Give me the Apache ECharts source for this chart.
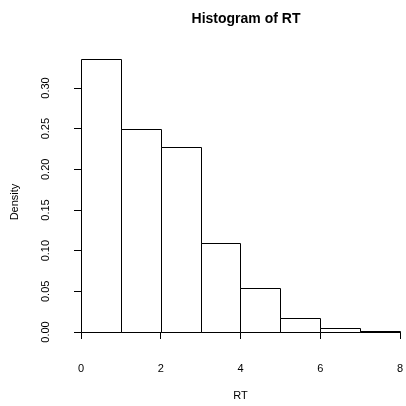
<!DOCTYPE html>
<html><head><meta charset="utf-8">
<script src="https://cdn.jsdelivr.net/npm/echarts@6/dist/echarts.min.js"></script>
<style>html,body{margin:0;padding:0;background:#fff}#c{width:406px;height:406px}</style>
</head><body><div id="c"></div>
<script>
var breaks = [0, 1, 2, 3, 4, 5, 6, 7, 8];
var density = [0.336, 0.250, 0.228, 0.109, 0.054, 0.017, 0.005, 0.001];
var xTicks = [0, 2, 4, 6, 8];
var yTicks = [0.00, 0.05, 0.10, 0.15, 0.20, 0.25, 0.30];

var bins = density.map(function (d, i) { return [breaks[i], breaks[i + 1], d]; });
var FONT = 'Liberation Sans, Arial, Helvetica, sans-serif';

var chart = echarts.init(document.getElementById('c'), null, {renderer: 'canvas'});
chart.setOption({
  backgroundColor: '#ffffff',
  animation: false,
  title: {
    text: 'Histogram of RT', left: 241, top: 7, textAlign: 'center',
    textStyle: {fontFamily: FONT, fontWeight: 'bold', fontSize: 14, color: '#000'}
  },
  grid: {left: 81, right: 4, top: 88, bottom: 70, containLabel: false},
  xAxis: {
    type: 'value', min: xTicks[0], max: xTicks[xTicks.length - 1], interval: 2,
    offset: 12,
    axisLine: {show: true, lineStyle: {color: '#000', width: 1}},
    axisTick: {show: true, length: 7, lineStyle: {color: '#000', width: 1}},
    axisLabel: {fontFamily: FONT, fontSize: 11, color: '#000', margin: 19},
    splitLine: {show: false},
    name: 'RT', nameLocation: 'middle', nameGap: 46,
    nameTextStyle: {fontFamily: FONT, fontSize: 11, color: '#000'}
  },
  yAxis: {
    type: 'value', min: yTicks[0], max: yTicks[yTicks.length - 1], interval: 0.05,
    offset: 13,
    axisLine: {show: true, lineStyle: {color: '#000', width: 1}},
    axisTick: {show: true, length: 7, lineStyle: {color: '#000', width: 1}},
    axisLabel: {fontFamily: FONT, fontSize: 11, color: '#000', margin: 17, rotate: 90,
      formatter: function (v) { return v.toFixed(2); }},
    splitLine: {show: false}
  },
  graphic: [{
    type: 'text', x: 15, y: 202, rotation: Math.PI / 2,
    style: {text: 'Density', fontFamily: FONT, fontSize: 11, fill: '#000',
      textAlign: 'center', textVerticalAlign: 'middle'}
  }],
  series: [{
    type: 'custom',
    clip: false,
    data: bins,
    renderItem: function (params, api) {
      var p0 = api.coord([api.value(0), api.value(2)]);
      var p1 = api.coord([api.value(1), 0]);
      return {
        type: 'rect',
        shape: {x: Math.round(p0[0]) + 0.5, y: Math.round(p0[1]) + 0.5,
          width: Math.round(p1[0]) - Math.round(p0[0]), height: Math.round(p1[1]) - Math.round(p0[1])},
        style: {fill: '#fff', stroke: '#000', lineWidth: 1}
      };
    }
  }]
});
</script></body></html>
